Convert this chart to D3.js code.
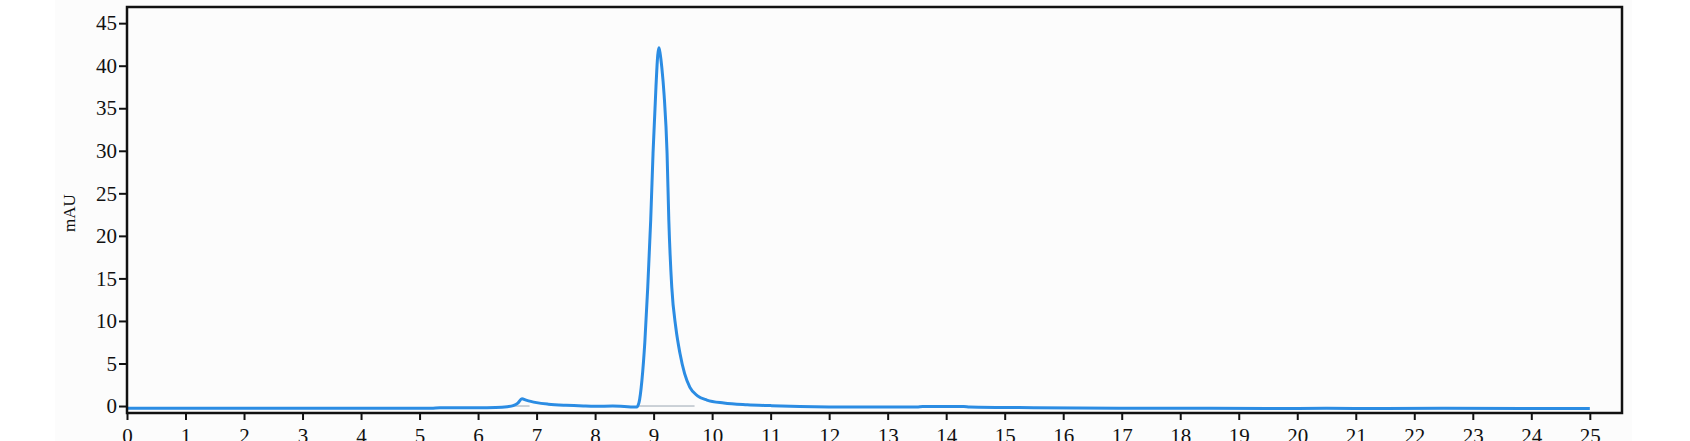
<!DOCTYPE html>
<html>
<head>
<meta charset="utf-8">
<script src="https://cdn.jsdelivr.net/npm/d3@7"></script>
<style>
  body { margin: 0; background: #fff; }
  .axis text { font-family: "Liberation Serif", serif; font-size: 21px; fill: #111; }
  .axis path, .axis line { stroke: #111; stroke-width: 2; }
</style>
</head>
<body>
<svg id="chart"></svg>
<script>
// retention time (min) and detector signal (mAU)
const timeMin = [0, 2, 4, 5.2, 5.35, 6.0, 6.3, 6.5, 6.6, 6.68, 6.75, 6.82, 6.9, 7.0, 7.2, 7.5, 7.8, 8.0, 8.3, 8.5, 8.65, 8.71,
  8.75, 8.8, 8.85, 8.9, 8.95, 8.99, 9.04, 9.07, 9.09, 9.11, 9.14, 9.18, 9.23, 9.26, 9.31, 9.38, 9.45, 9.53, 9.62, 9.75, 9.91,
  10.2, 10.6, 11.0, 11.5, 12.5, 13.5, 13.6, 14.3, 14.4, 15.5, 17, 18.5, 19.5, 20.5, 21.5, 22.5, 24, 25];
const signalMAU = [-0.27, -0.27, -0.27, -0.26, -0.2, -0.2, -0.18, -0.08, 0.05, 0.35, 0.85, 0.7, 0.55, 0.4, 0.22, 0.08, 0.0, -0.03, 0.0, -0.05, -0.12, -0.12,
  0.4, 3.0, 7.5, 14, 21.8, 29.7, 37.5, 41.2, 42.1, 41.5, 39.8, 36.5, 29.7, 21.8, 14, 9.2, 6.2, 3.8, 2.2, 1.2, 0.7,
  0.35, 0.15, 0.05, -0.05, -0.12, -0.12, -0.05, -0.05, -0.12, -0.2, -0.25, -0.27, -0.3, -0.27, -0.3, -0.27, -0.28, -0.28];

// integration baselines under the two peaks
const baseStart = [6.6, 8.72];
const baseEnd = [6.88, 9.7];

const xTicks = d3.range(0, 26, 1);
const yTicks = d3.range(0, 50, 5);

const width = 1690, height = 441;
const margin = { top: 7, right: 68, bottom: 28, left: 127 };

const svg = d3.select("#chart").attr("width", width).attr("height", height);

svg.append("rect").attr("x", 55).attr("y", 0).attr("width", 1577).attr("height", height).attr("fill", "#fcfcfc");

const x = d3.scaleLinear().domain([0, 25.55]).range([margin.left, width - margin.right]);
const y = d3.scaleLinear().domain([-0.82, 46.9]).range([height - margin.bottom, margin.top]);

// thin baseline segments
svg.selectAll(".base")
  .data(baseStart)
  .join("line")
  .attr("class", "base")
  .attr("x1", d => x(d))
  .attr("x2", (d, i) => x(baseEnd[i]))
  .attr("y1", y(0))
  .attr("y2", y(0))
  .attr("stroke", "#9aa7b3")
  .attr("stroke-width", 1);

const pts = timeMin.map((t, i) => [t, signalMAU[i]]);
svg.append("path")
  .datum(pts)
  .attr("fill", "none")
  .attr("stroke", "#2b8ce3")
  .attr("stroke-width", 3)
  .attr("stroke-linejoin", "round")
  .attr("d", d3.line().x(d => x(d[0])).y(d => y(d[1])).curve(d3.curveMonotoneX));

const xAxis = d3.axisBottom(x).tickValues(xTicks).tickSize(7).tickPadding(8).tickFormat(d3.format("d"));
svg.append("g")
  .attr("class", "axis")
  .attr("transform", `translate(0,${height - margin.bottom})`)
  .call(xAxis)
  .call(g => g.select(".domain").remove());

const yAxis = d3.axisLeft(y).tickValues(yTicks).tickSize(8).tickPadding(2).tickFormat(d3.format("d"));
svg.append("g")
  .attr("class", "axis")
  .attr("transform", `translate(${margin.left},0)`)
  .call(yAxis)
  .call(g => g.select(".domain").remove());

// frame
svg.append("rect")
  .attr("x", margin.left)
  .attr("y", margin.top)
  .attr("width", width - margin.right - margin.left)
  .attr("height", height - margin.bottom - margin.top)
  .attr("fill", "none")
  .attr("stroke", "#111")
  .attr("stroke-width", 2.5);

svg.append("text")
  .attr("transform", "translate(75,213) rotate(-90)")
  .attr("text-anchor", "middle")
  .style("font-family", "Liberation Serif, serif")
  .style("font-size", "17px")
  .attr("fill", "#111")
  .text("mAU");
</script>
</body>
</html>
